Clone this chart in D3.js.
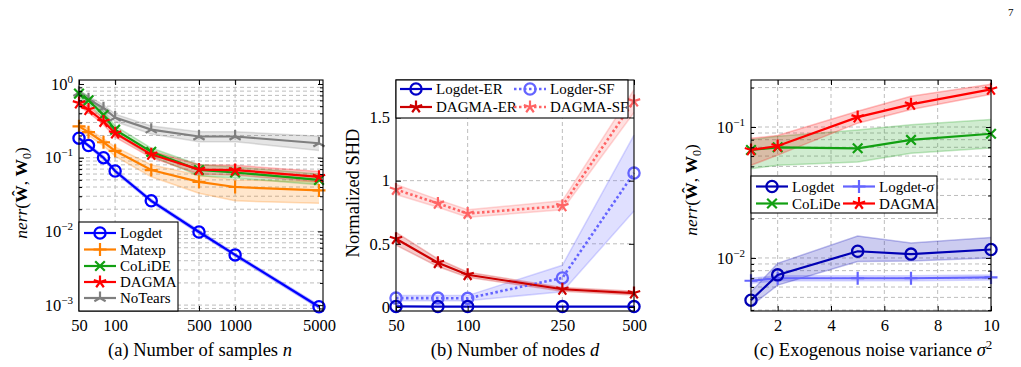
<!DOCTYPE html>
<html>
<head>
<meta charset="utf-8">
<script src="https://cdn.jsdelivr.net/npm/d3@7"></script>
<style>
body { margin: 0; background: #fff; }
svg, svg text, svg tspan { font-family: 'Liberation Serif', 'Times New Roman', Times, 'DejaVu Serif', serif; }
svg text { fill: #000; }
</style>
</head>
<body>
<svg id="chart" width="1021" height="367" font-family="Liberation Serif, Times New Roman, serif"></svg>
<script>
// ---- data: (a) number of samples n
var nSamples   = [50, 60, 80, 100, 200, 500, 1000, 5000];
var logdetA    = [0.184, 0.146, 0.100, 0.066, 0.026, 0.0098, 0.0048, 0.00095];
var logdetALo  = [0.176, 0.140, 0.095, 0.063, 0.0248, 0.0093, 0.0046, 0.00090];
var logdetAHi  = [0.192, 0.152, 0.105, 0.069, 0.0272, 0.0103, 0.0050, 0.00100];
var matexpA    = [0.266, 0.222, 0.162, 0.124, 0.068, 0.047, 0.040, 0.036];
var matexpALo  = [0.240, 0.200, 0.145, 0.105, 0.055, 0.033, 0.026, 0.024];
var matexpAHi  = [0.290, 0.245, 0.180, 0.140, 0.080, 0.058, 0.050, 0.047];
var colideA    = [0.74, 0.60, 0.38, 0.24, 0.120, 0.068, 0.063, 0.050];
var colideALo  = [0.66, 0.54, 0.34, 0.21, 0.105, 0.057, 0.053, 0.043];
var colideAHi  = [0.82, 0.67, 0.43, 0.27, 0.135, 0.080, 0.075, 0.060];
var dagmaA     = [0.55, 0.45, 0.31, 0.215, 0.111, 0.069, 0.068, 0.055];
var dagmaALo   = [0.50, 0.41, 0.28, 0.190, 0.100, 0.060, 0.058, 0.047];
var dagmaAHi   = [0.60, 0.50, 0.34, 0.240, 0.123, 0.080, 0.079, 0.065];
var notearsA   = [0.76, 0.62, 0.47, 0.35, 0.24, 0.194, 0.194, 0.157];
var notearsALo = [0.70, 0.57, 0.42, 0.31, 0.21, 0.165, 0.165, 0.125];
var notearsAHi = [0.82, 0.68, 0.52, 0.39, 0.27, 0.225, 0.225, 0.195];
var ticksA     = [50, 100, 500, 1000, 5000];

// ---- data: (b) number of nodes d
var nNodes      = [50, 75, 100, 250, 500];
var logdetER    = [0.004, 0.003, 0.003, 0.003, 0.003];
var logderSF    = [0.070, 0.070, 0.068, 0.23, 1.06];
var logderSFLo  = [0.050, 0.050, 0.050, 0.12, 0.76];
var logderSFHi  = [0.090, 0.090, 0.090, 0.33, 1.36];
var dagmaER     = [0.54, 0.35, 0.255, 0.140, 0.110];
var dagmaERLo   = [0.49, 0.32, 0.235, 0.125, 0.095];
var dagmaERHi   = [0.59, 0.38, 0.275, 0.155, 0.125];
var dagmaSF     = [0.93, 0.82, 0.74, 0.80, 1.63];
var dagmaSFLo   = [0.89, 0.79, 0.71, 0.77, 1.54];
var dagmaSFHi   = [0.97, 0.85, 0.77, 0.84, 1.72];
var ticksB      = [50, 100, 250, 500];
var yTicksB     = [0, 0.5, 1, 1.5];

// ---- data: (c) exogenous noise variance
var sigma2      = [1, 2, 5, 7, 10];
var logdetC     = [0.00476, 0.00743, 0.01125, 0.0107, 0.0116];
var logdetCLo   = [0.0043, 0.0062, 0.0094, 0.0095, 0.0100];
var logdetCHi   = [0.0055, 0.0091, 0.0147, 0.0130, 0.0143];
var logdetSigC  = [0.0067, 0.0070, 0.0070, 0.0070, 0.0071];
var logdetSigLo = [0.0064, 0.0067, 0.0067, 0.0067, 0.0068];
var logdetSigHi = [0.0070, 0.0073, 0.0073, 0.0073, 0.0074];
var colideC     = [0.0668, 0.070, 0.0688, 0.0797, 0.0888];
var colideCLo   = [0.048, 0.051, 0.054, 0.063, 0.069];
var colideCHi   = [0.080, 0.085, 0.095, 0.104, 0.114];
var dagmaC      = [0.0668, 0.0716, 0.119, 0.149, 0.194];
var dagmaCLo    = [0.051, 0.061, 0.107, 0.136, 0.178];
var dagmaCHi    = [0.082, 0.086, 0.132, 0.172, 0.212];
var ticksC      = [2, 4, 6, 8, 10];

var svg = d3.select('#chart');
var gridColor = '#bdbdbd';
var serif = 'Liberation Serif, Times New Roman, serif';

// markers
function markerPath(type, s) {
    var p = '';
    if (type === 'plus') {
        p = 'M' + (-s) + ',0H' + s + 'M0,' + (-s) + 'V' + s;
    } else if (type === 'cross') {
        var c = s * 0.8;
        p = 'M' + (-c) + ',' + (-c) + 'L' + c + ',' + c + 'M' + (-c) + ',' + c + 'L' + c + ',' + (-c);
    } else if (type === 'star' || type === 'tri') {
        var n = type === 'star' ? 5 : 3;
        for (var k = 0; k < n; k++) {
            var a = -Math.PI / 2 + k * 2 * Math.PI / n;
            p += 'M0,0L' + (s * Math.cos(a)).toFixed(2) + ',' + (s * Math.sin(a)).toFixed(2);
        }
    }
    return p;
}
function drawMarker(g, type, cx, cy, color) {
    if (type === 'circle') {
        g.append('circle').attr('cx', cx).attr('cy', cy).attr('r', 5.6)
            .attr('fill', 'none').attr('stroke', color).attr('stroke-width', 2.3);
    } else {
        g.append('path').attr('transform', 'translate(' + cx + ',' + cy + ')')
            .attr('d', markerPath(type, type === 'cross' ? 6 : 6.5))
            .attr('fill', 'none').attr('stroke', color).attr('stroke-width', 2.2);
    }
}

function powText(sel, e) {
    sel.append('tspan').text('10');
    sel.append('tspan').attr('dy', -7).attr('font-size', 11).text(e === 0 ? '0' : '\u2212' + (-e));
}

function drawPanel(p) {
    var g = svg.append('g');
    var x = p.x, y = p.y;
    var L = x.range()[0], R = x.range()[1], B = y.range()[0], T = y.range()[1];

    // grid
    g.selectAll('.vg').data(p.xGrid).enter().append('line')
        .attr('x1', function(d){ return x(d); }).attr('x2', function(d){ return x(d); })
        .attr('y1', T).attr('y2', B)
        .attr('stroke', gridColor).attr('stroke-dasharray', '4,3');
    g.selectAll('.hg').data(p.yGrid).enter().append('line')
        .attr('x1', L).attr('x2', R)
        .attr('y1', function(d){ return y(d); }).attr('y2', function(d){ return y(d); })
        .attr('stroke', gridColor).attr('stroke-dasharray', '4,3');

    var area = d3.area().x(function(d){ return x(d[0]); })
        .y0(function(d){ return y(d[1]); }).y1(function(d){ return y(d[2]); });
    var line = d3.line().x(function(d){ return x(d[0]); }).y(function(d){ return y(d[1]); });

    // bands
    p.series.forEach(function(s){
        if (!s.lo) return;
        var pts = s.xs.map(function(v, i){ return [v, s.lo[i], s.hi[i]]; });
        g.append('path').datum(pts).attr('d', area)
            .attr('fill', s.color).attr('fill-opacity', 0.2).attr('stroke', 'none');
        [s.lo, s.hi].forEach(function(arr){
            g.append('path').datum(s.xs.map(function(v, i){ return [v, arr[i]]; })).attr('d', line)
                .attr('fill', 'none').attr('stroke', s.color).attr('stroke-opacity', 0.25).attr('stroke-width', 1.5);
        });
    });
    // lines + markers
    p.series.forEach(function(s){
        var pts = s.xs.map(function(v, i){ return [v, s.ys[i]]; });
        g.append('path').datum(pts).attr('d', line)
            .attr('fill', 'none').attr('stroke', s.color).attr('stroke-width', s.dash ? 2.6 : 2.2)
            .attr('stroke-dasharray', s.dash || null);
        pts.forEach(function(d){ drawMarker(g, s.marker, x(d[0]), y(d[1]), s.color); });
    });

    // axes with inward ticks
    function styleAxis(a) {
        a.select('.domain').remove();
        a.attr('font-family', serif).attr('font-size', 16.5);
        a.selectAll('line').attr('stroke', '#000');
        a.selectAll('text').style('font-family', serif);
    }
    var ax = g.append('g').attr('transform', 'translate(0,' + B + ')')
        .call(d3.axisBottom(x).tickValues(p.xTicks).tickSize(-5).tickPadding(8).tickFormat(d3.format('')));
    styleAxis(ax);
    var axT = g.append('g').attr('transform', 'translate(0,' + T + ')')
        .call(d3.axisTop(x).tickValues(p.xTicks).tickSize(-5).tickFormat(''));
    styleAxis(axT);

    var yAx = d3.axisLeft(y).tickValues(p.yTicks).tickSize(-5).tickPadding(6);
    if (p.logY) yAx.tickFormat('');
    else yAx.tickFormat(function(d){ return d; });
    var ay = g.append('g').attr('transform', 'translate(' + L + ',0)').call(yAx);
    styleAxis(ay);
    if (p.logY) {
        ay.selectAll('.tick').append('text').attr('x', -6).attr('dy', '0.32em')
            .attr('text-anchor', 'end').attr('font-size', 16.5).style('font-family', serif)
            .each(function(d){ powText(d3.select(this), Math.round(Math.log10(d))); });
    }
    var ayR = g.append('g').attr('transform', 'translate(' + R + ',0)')
        .call(d3.axisRight(y).tickValues(p.yTicks).tickSize(-5).tickFormat(''));
    styleAxis(ayR);
    if (p.yMinor) {
        [[d3.axisLeft, L], [d3.axisRight, R]].forEach(function(o){
            var m = g.append('g').attr('transform', 'translate(' + o[1] + ',0)')
                .call(o[0](y).tickValues(p.yMinor).tickSize(-3).tickFormat(''));
            styleAxis(m);
        });
    }

    g.append('rect').attr('x', L).attr('y', T).attr('width', R - L).attr('height', B - T)
        .attr('fill', 'none').attr('stroke', '#000').attr('stroke-width', 1.1);
    return g;
}

function drawLegend(box, items) {
    var g = svg.append('g');
    g.append('rect').attr('x', box.x).attr('y', box.y).attr('width', box.w).attr('height', box.h)
        .attr('fill', '#fff').attr('stroke', '#000').attr('stroke-width', 1.1);
    items.forEach(function(it){
        g.append('line').attr('x1', it.x).attr('x2', it.x + 32).attr('y1', it.y).attr('y2', it.y)
            .attr('stroke', it.color).attr('stroke-width', it.dash ? 2.6 : 2.2)
            .attr('stroke-dasharray', it.dash || null);
        drawMarker(g, it.marker, it.x + 16, it.y, it.color);
        var t = g.append('text').attr('x', it.x + 36).attr('y', it.y + 5).attr('font-size', 15)
            .style('font-family', serif);
        if (it.sigma) {
            t.append('tspan').text('Logdet-');
            t.append('tspan').attr('font-style', 'italic').text('\u03c3');
        } else t.text(it.label);
    });
}

function minorLog(lo, hi) {
    var out = [];
    for (var e = lo; e <= hi; e++) for (var m = 2; m <= 9; m++) out.push(m * Math.pow(10, e));
    return out;
}

function nerrLabel(cx, cy) {
    var t = svg.append('text').attr('transform', 'translate(' + cx + ',' + cy + ') rotate(-90)')
        .attr('text-anchor', 'middle').attr('font-size', 17.5).style('font-family', serif);
    t.append('tspan').attr('font-style', 'italic').text('nerr');
    t.append('tspan').text('(');
    t.append('tspan').attr('font-weight', 'bold').text('\u0174');
    t.append('tspan').text(', ');
    t.append('tspan').attr('font-weight', 'bold').text('W');
    t.append('tspan').attr('font-size', 12).attr('dy', 4).text('0');
    t.append('tspan').attr('dy', -4).text(')');
}

// ---------- panel (a)
var xA = d3.scaleLog().domain([50, 5400]).range([79, 323]);
var yA = d3.scaleLog().domain([Math.pow(10, -3.08), Math.pow(10, 0.054)]).range([311, 80]);
var minorA = minorLog(-4, -1).filter(function(v){ return v > yA.domain()[0] && v < yA.domain()[1]; });
drawPanel({
    x: xA, y: yA, logY: true,
    xTicks: ticksA, yTicks: [1e-3, 1e-2, 1e-1, 1], yMinor: minorA,
    xGrid: [100, 500, 1000], yGrid: [1e-3, 1e-2, 1e-1].concat(minorA),
    series: [
        {xs: nSamples, ys: notearsA, lo: notearsALo, hi: notearsAHi, color: '#7f7f7f', marker: 'tri'},
        {xs: nSamples, ys: matexpA, lo: matexpALo, hi: matexpAHi, color: '#ff8000', marker: 'plus'},
        {xs: nSamples, ys: colideA, lo: colideALo, hi: colideAHi, color: '#12a012', marker: 'cross'},
        {xs: nSamples, ys: dagmaA, lo: dagmaALo, hi: dagmaAHi, color: '#ff0000', marker: 'star'},
        {xs: nSamples, ys: logdetA, lo: logdetALo, hi: logdetAHi, color: '#0000ff', marker: 'circle'}
    ]
});
drawLegend({x: 79, y: 222, w: 99, h: 89}, [
    {label: 'Logdet', color: '#0000ff', marker: 'circle', x: 84, y: 233},
    {label: 'Matexp', color: '#ff8000', marker: 'plus', x: 84, y: 249.5},
    {label: 'CoLiDE', color: '#12a012', marker: 'cross', x: 84, y: 266},
    {label: 'DAGMA', color: '#ff0000', marker: 'star', x: 84, y: 282},
    {label: 'NoTears', color: '#7f7f7f', marker: 'tri', x: 84, y: 298}
]);
nerrLabel(27, 193);

// ---------- panel (b)
var xB = d3.scaleLog().domain([50, 500]).range([396, 634]);
var yB = d3.scaleLinear().domain([-0.032, 1.797]).range([311, 80]);
drawPanel({
    x: xB, y: yB, logY: false,
    xTicks: ticksB, yTicks: yTicksB,
    xGrid: [100, 250], yGrid: [0.5, 1, 1.5],
    series: [
        {xs: nNodes, ys: logderSF, lo: logderSFLo, hi: logderSFHi, color: '#6464ff', marker: 'circle', dash: '2.5,2.5'},
        {xs: nNodes, ys: dagmaSF, lo: dagmaSFLo, hi: dagmaSFHi, color: '#ff6464', marker: 'star', dash: '2.5,2.5'},
        {xs: nNodes, ys: dagmaER, lo: dagmaERLo, hi: dagmaERHi, color: '#cc0000', marker: 'star'},
        {xs: nNodes, ys: logdetER, color: '#0000c8', marker: 'circle'}
    ]
});
drawLegend({x: 396, y: 80, w: 232, h: 38}, [
    {label: 'Logdet-ER', color: '#0000c8', marker: 'circle', x: 400, y: 89},
    {label: 'DAGMA-ER', color: '#cc0000', marker: 'star', x: 400, y: 107},
    {label: 'Logder-SF', color: '#6464ff', marker: 'circle', dash: '2.5,2.5', x: 514, y: 89},
    {label: 'DAGMA-SF', color: '#ff6464', marker: 'star', dash: '2.5,2.5', x: 514, y: 107}
]);
svg.append('text').attr('transform', 'translate(359,193) rotate(-90)').style('font-family', serif)
    .attr('text-anchor', 'middle').attr('font-size', 18.5).text('Normalized SHD');

// ---------- panel (c)
var xC = d3.scaleLinear().domain([1, 10]).range([751, 991]);
var yC = d3.scaleLog().domain([Math.pow(10, -2.405), Math.pow(10, -0.641)]).range([311, 80]);
var minorC = minorLog(-3, -1).filter(function(v){ return v > yC.domain()[0] && v < yC.domain()[1]; });
drawPanel({
    x: xC, y: yC, logY: true,
    xTicks: ticksC, yTicks: [1e-2, 1e-1], yMinor: minorC,
    xGrid: [2, 4, 6, 8], yGrid: [1e-2, 1e-1].concat(minorC),
    series: [
        {xs: sigma2, ys: colideC, lo: colideCLo, hi: colideCHi, color: '#12a012', marker: 'cross'},
        {xs: sigma2, ys: dagmaC, lo: dagmaCLo, hi: dagmaCHi, color: '#ff0000', marker: 'star'},
        {xs: sigma2, ys: logdetSigC, lo: logdetSigLo, hi: logdetSigHi, color: '#6464ff', marker: 'plus'},
        {xs: sigma2, ys: logdetC, lo: logdetCLo, hi: logdetCHi, color: '#0000b4', marker: 'circle'}
    ]
});
drawLegend({x: 751, y: 176, w: 186, h: 37}, [
    {label: 'Logdet', color: '#0000b4', marker: 'circle', x: 756, y: 186.5},
    {label: 'CoLiDe', color: '#12a012', marker: 'cross', x: 756, y: 203.5},
    {label: 'Logdet-σ', sigma: true, color: '#6464ff', marker: 'plus', x: 843, y: 186.5},
    {label: 'DAGMA', color: '#ff0000', marker: 'star', x: 843, y: 203.5}
]);
nerrLabel(697, 190);

// ---------- captions
function caption(cx, pre, it, sup) {
    var t = svg.append('text').attr('x', cx).attr('y', 356).attr('text-anchor', 'middle')
        .attr('font-size', 18.5).style('font-family', serif);
    t.append('tspan').text(pre);
    t.append('tspan').attr('font-style', 'italic').text(it);
    if (sup) t.append('tspan').attr('dy', -7).attr('font-size', 13).text(sup);
}
caption(200, '(a) Number of samples ', 'n');
caption(515, '(b) Number of nodes ', 'd');
caption(873, '(c) Exogenous noise variance ', '\u03c3', '2');

svg.append('text').attr('x', 1008).attr('y', 16).attr('font-size', 11).style('font-family', serif).text('7');
</script>
</body>
</html>
